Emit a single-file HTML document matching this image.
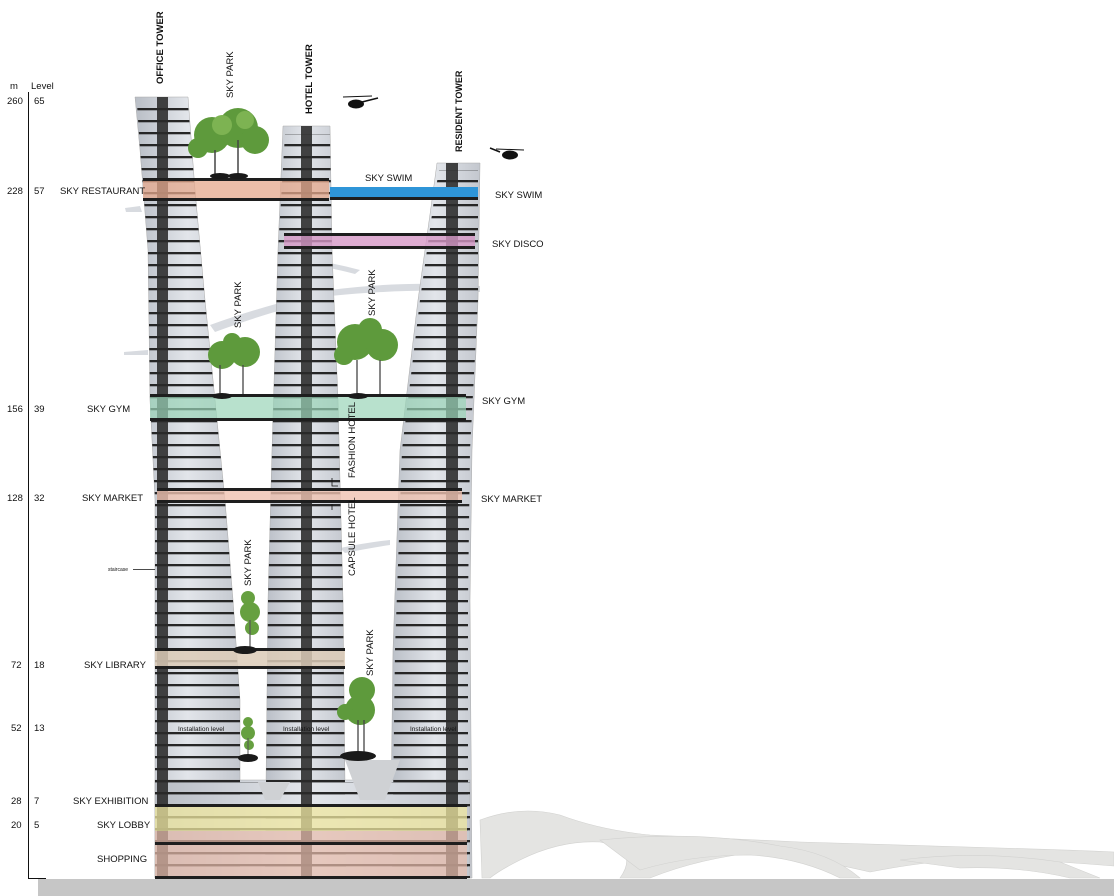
<!DOCTYPE html>
<html><head><meta charset="utf-8"><style>
html,body{margin:0;padding:0;background:#fff}
svg{display:block}
text{font-family:"Liberation Sans",sans-serif;fill:#111}
.l{font-size:9.5px}
.b{font-size:9.5px;font-weight:bold}
</style></head><body>
<svg width="1114" height="896" viewBox="0 0 1114 896" xmlns="http://www.w3.org/2000/svg">
<defs>
<pattern id="fl" width="10" height="12" patternUnits="userSpaceOnUse">
<rect x="0" y="0" width="10" height="2.3" fill="#262626"/>
</pattern>
<linearGradient id="tg" x1="0" x2="1" y1="0" y2="0">
<stop offset="0" stop-color="#b9bec6"/><stop offset="0.5" stop-color="#e2e5ea"/><stop offset="1" stop-color="#c3c7ce"/>
</linearGradient>
</defs>

<g fill="#e4e4e2" stroke="#d2d2d0" stroke-width="0.6">
<path d="M480 820 Q520 805 560 815 Q600 830 650 835 Q720 838 800 842 Q900 845 1000 848 Q1070 850 1114 852 L1114 866 Q1040 860 980 858 Q920 862 870 872 Q820 860 760 852 Q700 858 650 878 L620 878 Q640 850 600 842 Q560 840 520 860 Q500 870 490 878 L482 878 Z"/>
<path d="M600 840 Q700 830 780 846 Q830 852 860 878 L840 878 Q800 858 750 855 Q690 855 640 870 Z"/>
<path d="M900 860 Q980 850 1060 862 L1100 878 L1070 878 Q1020 866 960 868 Z"/>
</g>

<rect x="38" y="879" width="1076" height="17" fill="#c6c6c6"/>

<line x1="28.5" y1="92" x2="28.5" y2="878" stroke="#111" stroke-width="1"/>
<line x1="28" y1="878.5" x2="46" y2="878.5" stroke="#111" stroke-width="1"/>

<g fill="#d8dbe0">
<path d="M210 325 Q280 300 330 292 L330 298 Q280 308 215 332 Z"/>
<path d="M330 290 Q410 280 480 286 L480 292 Q410 288 330 296 Z"/>
<path d="M300 258 Q330 262 360 270 L355 274 Q325 266 300 264 Z"/>
<path d="M340 548 Q370 542 390 540 L390 545 Q370 548 345 553 Z"/>
<path d="M125 208 L140 206 L142 212 L126 212 Z"/>
<path d="M124 352 L148 350 L148 355 L124 355 Z"/>
</g>

<g fill="url(#tg)" stroke="#aaa" stroke-width="0.5">
<path d="M135 97 L188 97 L195 190 L205 300 L215 400 L225 500 L233 600 L240 700 L240 878 L155 878 L155 500 L150 400 L148 250 L140 150 Z"/>
<path d="M283 126 L330 126 L332 250 L338 400 L343 600 L346 878 L265 878 L268 600 L272 450 L278 250 Z"/>
<path d="M437 163 L480 163 L478 300 L472 450 L470 600 L472 878 L390 878 L393 650 L400 450 L418 300 L432 200 Z"/>
<rect x="155" y="780" width="315" height="98"/>
</g>
<g fill="url(#fl)">
<path d="M137 104 L188 104 L195 190 L205 300 L215 400 L225 500 L233 600 L240 700 L240 878 L155 878 L155 500 L150 400 L148 250 L140 150 Z"/>
<path d="M285 134 L330 134 L332 250 L338 400 L343 600 L346 878 L265 878 L268 600 L272 450 L278 250 Z"/>
<path d="M439 170 L478 170 L478 300 L470 450 L468 600 L468 878 L392 878 L395 650 L402 450 L420 300 L434 200 Z"/>
<rect x="155" y="782" width="315" height="96"/>
</g>

<g fill="#2a2a2a" opacity="0.88">
<rect x="157" y="97" width="11" height="781"/>
<rect x="301" y="126" width="11" height="752"/>
<rect x="446" y="163" width="12" height="715"/>
</g>

<g fill="#cfd1d4">
<path d="M258 782 L290 782 L280 800 L265 800 Z"/>
<path d="M345 760 L400 760 L385 800 L360 800 Z"/>
</g>

<rect x="143" y="180" width="186" height="20" fill="#e5a88c" opacity="0.75"/>
<rect x="330" y="187" width="148" height="11" fill="#2e95d8"/>
<rect x="284" y="235" width="191" height="12" fill="#d697c6" opacity="0.8"/>
<rect x="150" y="396" width="316" height="24" fill="#9ad4b8" opacity="0.7"/>
<rect x="157" y="490" width="305" height="12" fill="#efc2b0" opacity="0.8"/>
<rect x="155" y="650" width="190" height="18" fill="#dccbb7" opacity="0.85"/>
<rect x="155" y="806" width="312" height="25" fill="#efe7a0" opacity="0.75"/>
<rect x="155" y="831" width="312" height="47" fill="#e8bcab" opacity="0.7"/>

<g fill="#1e1e1e">
<rect x="143" y="178" width="186" height="3"/><rect x="143" y="198" width="186" height="3"/>
<rect x="330" y="197" width="148" height="3"/>
<rect x="284" y="233" width="191" height="3"/><rect x="284" y="246" width="191" height="3"/>
<rect x="150" y="394" width="316" height="3"/><rect x="150" y="418" width="316" height="3"/>
<rect x="157" y="488" width="305" height="3"/><rect x="157" y="500" width="305" height="3"/>
<rect x="155" y="648" width="190" height="3"/><rect x="155" y="666" width="190" height="3"/>
<rect x="155" y="804" width="312" height="3"/><rect x="155" y="842" width="312" height="3"/>
<rect x="155" y="876" width="312" height="3"/>
</g>

<g>
<g fill="#5e9a3c"><circle cx="212" cy="135" r="18"/><circle cx="238" cy="128" r="20"/><circle cx="255" cy="140" r="14"/><circle cx="198" cy="148" r="10"/></g>
<g fill="#7db352"><circle cx="222" cy="125" r="10"/><circle cx="245" cy="120" r="9"/></g>
<g stroke="#444" stroke-width="1.5"><line x1="215" y1="150" x2="215" y2="178"/><line x1="238" y1="140" x2="238" y2="178"/></g>
<g fill="#5e9a3c"><circle cx="222" cy="355" r="14"/><circle cx="245" cy="352" r="15"/><circle cx="232" cy="342" r="9"/></g>
<g stroke="#444" stroke-width="1.3"><line x1="220" y1="365" x2="220" y2="394"/><line x1="243" y1="365" x2="243" y2="394"/></g>
<g fill="#5e9a3c"><circle cx="355" cy="342" r="18"/><circle cx="382" cy="345" r="16"/><circle cx="370" cy="330" r="12"/><circle cx="344" cy="355" r="10"/></g>
<g stroke="#444" stroke-width="1.3"><line x1="357" y1="360" x2="357" y2="394"/><line x1="380" y1="360" x2="380" y2="394"/></g>
<g fill="#66a040"><circle cx="250" cy="612" r="10"/><circle cx="248" cy="598" r="7"/><circle cx="252" cy="628" r="7"/></g>
<line x1="250" y1="620" x2="250" y2="648" stroke="#555" stroke-width="1.2"/>
<g fill="#66a040"><circle cx="248" cy="733" r="7"/><circle cx="248" cy="722" r="5"/><circle cx="249" cy="745" r="5"/></g>
<line x1="248" y1="738" x2="248" y2="757" stroke="#555" stroke-width="1"/>
<g fill="#5e9a3c"><circle cx="360" cy="710" r="15"/><circle cx="362" cy="690" r="13"/><circle cx="345" cy="712" r="8"/></g>
<g stroke="#444" stroke-width="1.3"><line x1="358" y1="720" x2="358" y2="754"/><line x1="364" y1="720" x2="364" y2="754"/></g>
<g fill="#1a1a1a"><ellipse cx="245" cy="650" rx="12" ry="4"/><ellipse cx="248" cy="758" rx="10" ry="4"/><ellipse cx="358" cy="756" rx="18" ry="5"/>
<ellipse cx="220" cy="176" rx="10" ry="3"/><ellipse cx="238" cy="176" rx="10" ry="3"/><ellipse cx="222" cy="396" rx="10" ry="3"/><ellipse cx="358" cy="396" rx="10" ry="3"/></g>
</g>

<g fill="#111">
<ellipse cx="356" cy="104" rx="8" ry="4.5"/><line x1="343" y1="97" x2="372" y2="96" stroke="#111" stroke-width="1"/><line x1="362" y1="102" x2="378" y2="98" stroke="#111" stroke-width="1.5"/>
<ellipse cx="510" cy="155" rx="8" ry="4.5"/><line x1="496" y1="149" x2="524" y2="150" stroke="#111" stroke-width="1"/><line x1="500" y1="152" x2="490" y2="148" stroke="#111" stroke-width="1.5"/>
</g>

<text class="l" x="10" y="89">m</text><text class="l" x="31" y="89">Level</text>
<text class="l" x="7" y="104">260</text><text class="l" x="34" y="104">65</text>
<text class="l" x="7" y="194">228</text><text class="l" x="34" y="194">57</text>
<text class="l" x="7" y="412">156</text><text class="l" x="34" y="412">39</text>
<text class="l" x="7" y="501">128</text><text class="l" x="34" y="501">32</text>
<text class="l" x="11" y="668">72</text><text class="l" x="34" y="668">18</text>
<text class="l" x="11" y="731">52</text><text class="l" x="34" y="731">13</text>
<text class="l" x="11" y="804">28</text><text class="l" x="34" y="804">7</text>
<text class="l" x="11" y="828">20</text><text class="l" x="34" y="828">5</text>
<text class="l" x="60" y="194">SKY RESTAURANT</text>
<text class="l" x="87" y="412">SKY GYM</text>
<text class="l" x="82" y="501">SKY MARKET</text>
<text x="108" y="571" style="font-size:5px">staircase</text>
<line x1="133" y1="569.5" x2="155" y2="569.5" stroke="#111" stroke-width="0.8"/>
<text class="l" x="84" y="668">SKY LIBRARY</text>
<text class="l" x="73" y="804">SKY EXHIBITION</text>
<text class="l" x="97" y="828">SKY LOBBY</text>
<text class="l" x="97" y="862">SHOPPING</text>

<text class="l" x="495" y="198">SKY SWIM</text>
<text class="l" x="492" y="247">SKY DISCO</text>
<text class="l" x="482" y="404">SKY GYM</text>
<text class="l" x="481" y="502">SKY MARKET</text>
<text class="l" x="365" y="181">SKY SWIM</text>

<g style="font-size:6.5px">
<text x="178" y="731">Installation level</text>
<text x="283" y="731">Installation level</text>
<text x="410" y="731">Installation level</text>
</g>

<text class="b" transform="translate(163,84) rotate(-90)">OFFICE TOWER</text>
<text class="l" transform="translate(233,98) rotate(-90)">SKY PARK</text>
<text class="b" transform="translate(312,114) rotate(-90)">HOTEL TOWER</text>
<text class="b" transform="translate(462,152) rotate(-90)" style="font-size:9px">RESIDENT TOWER</text>
<text class="l" transform="translate(241,328) rotate(-90)">SKY PARK</text>
<text class="l" transform="translate(375,316) rotate(-90)">SKY PARK</text>
<text class="l" transform="translate(355,478) rotate(-90)">FASHION HOTEL</text>
<text class="l" transform="translate(355,576) rotate(-90)">CAPSULE HOTEL</text>
<text class="l" transform="translate(251,586) rotate(-90)">SKY PARK</text>
<text class="l" transform="translate(373,676) rotate(-90)">SKY PARK</text>
<path d="M332 478 L332 486 L338 486 M332 504 L332 510" stroke="#111" stroke-width="0.8" fill="none"/>
</svg>
</body></html>
